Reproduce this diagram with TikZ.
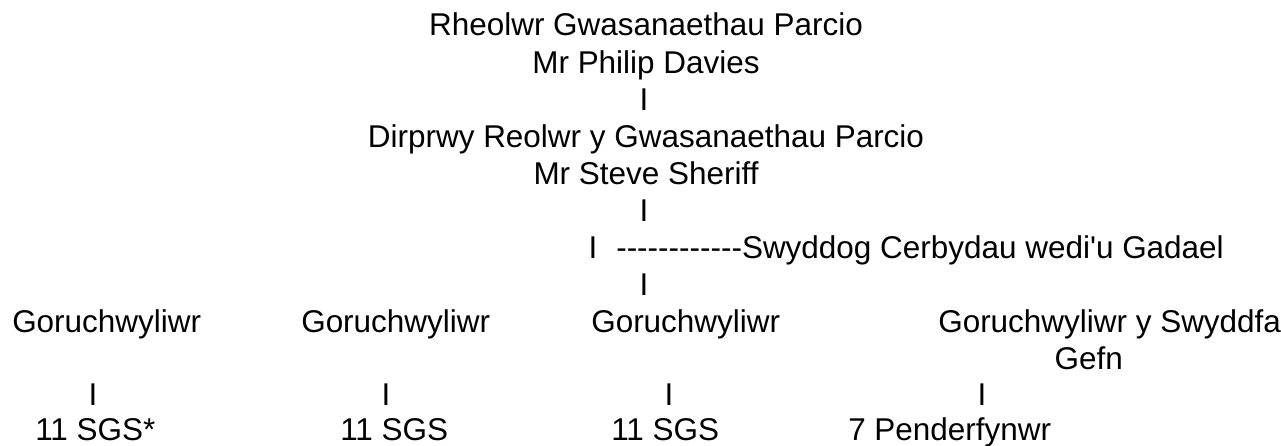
\documentclass[tikz,border=0pt]{standalone}
\usepackage{fontspec}
\setmainfont{Liberation Sans}[Ligatures=TeXOff]
\usepackage{tikz}

\tikzset{
  txt/.style={inner sep=0pt, anchor=base west},
  mid/.style={inner sep=0pt, anchor=base},
}

\begin{document}
\begin{tikzpicture}[x=0.75pt,y=0.75pt,yscale=-1,xscale=1,font=\fontsize{23.6}{28}\selectfont]
%set diagram size: 1281 x 446
\path[use as bounding box] (0,0) rectangle (1281,446);

% Text Node
\node[mid] (rheolwr) at (646,36) {Rheolwr Gwasanaethau Parcio};
% Text Node
\node[mid] (philip) at (646,73) {Mr Philip Davies};
% Text Node
\node[mid] (barA) at (644,110) {I};
% Text Node
\node[mid] (dirprwy) at (646,147) {Dirprwy Reolwr y Gwasanaethau Parcio};
% Text Node
\node[mid] (steve) at (646,184) {Mr Steve Sheriff};
% Text Node
\node[mid] (barB) at (644,221) {I};
% Text Node
\node[mid] (barC) at (593,258) {I};
% Text Node
\node[txt] (swyddog) at (616,258) {------------Swyddog Cerbydau wedi'u Gadael};
% Text Node
\node[mid] (barD) at (644,295) {I};

% Text Node
\node[txt] (gorA) at (12,332) {Goruchwyliwr};
% Text Node
\node[txt] (gorB) at (301,332) {Goruchwyliwr};
% Text Node
\node[txt] (gorC) at (591,332) {Goruchwyliwr};
% Text Node
\node[txt] (gorD) at (938,332) {Goruchwyliwr y Swyddfa};
% Text Node
\node[inner sep=0pt, anchor=base east] (gefn) at (1123,369) {Gefn};

% Text Node
\node[mid] (barE) at (93,405) {I};
% Text Node
\node[mid] (barF) at (386,405) {I};
% Text Node
\node[mid] (barG) at (669,405) {I};
% Text Node
\node[mid] (barH) at (982,405) {I};

% Text Node
\node[txt] (sgsA) at (35,440) {11 SGS*};
% Text Node
\node[txt] (sgsB) at (340,440) {11 SGS};
% Text Node
\node[txt] (sgsC) at (611,440) {11 SGS};
% Text Node
\node[txt] (pend) at (848,440) {7 Penderfynwr};

\end{tikzpicture}
\end{document}
